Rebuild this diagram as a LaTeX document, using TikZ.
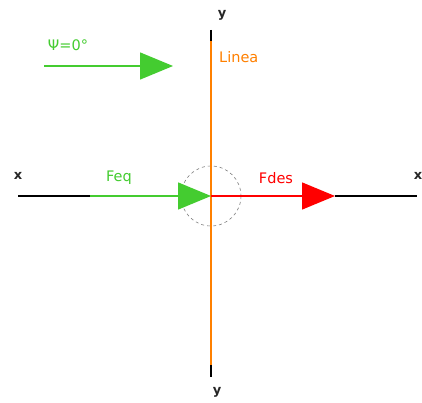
\documentclass[tikz,border=0pt]{standalone}
\usepackage{fontspec}
\setmainfont{DejaVu Sans}
\usetikzlibrary{arrows.meta}
\definecolor{fgreen}{RGB}{68,204,48}
\definecolor{forange}{RGB}{255,128,0}
\definecolor{fred}{RGB}{255,0,0}
\tikzset{
  axis/.style={line width=1.4pt,black},
  vec/.style={line width=1.4pt,-{Triangle[length=33pt,width=27pt]}},
  axlabel/.style={font=\fontsize{13}{15}\selectfont\bfseries,text=black!85,inner sep=0pt},
  lbl/.style={font=\fontsize{14.5}{17}\selectfont,inner sep=0pt},
}
\begin{document}
\begin{tikzpicture}[x=1pt,y=-1pt]
\useasboundingbox[fill=white] (0,0) rectangle (422,403);
% coordinates
\coordinate (O) at (211,196);
\coordinate (xl) at (18,196);
\coordinate (gs) at (90,196);
\coordinate (rt) at (335,196);
\coordinate (xr) at (417,196);
\coordinate (yt) at (211,30);
\coordinate (os) at (211,41);
\coordinate (oe) at (211,365);
\coordinate (yb) at (211,377);
\coordinate (ps) at (44,66);
\coordinate (pe) at (173,66);
% circle
\draw[gray,dashed,line width=0.6pt] (O) circle (30);
% axes
\draw[axis] (xl) -- (gs);
\draw[axis] (rt) -- (xr);
\draw[axis] (yt) -- (os);
\draw[axis] (oe) -- (yb);
\draw[line width=1.4pt,forange] (os) -- (oe);
% vectors
\draw[vec,fgreen] (gs) -- (O);
\draw[vec,fred] (O) -- (rt);
\draw[vec,fgreen] (ps) -- (pe);
% labels
\node[axlabel] (lxl) at (18,176) {x};
\node[axlabel] (lxr) at (418,176) {x};
\node[axlabel] (lyt) at (222,15) {y};
\node[axlabel] (lyb) at (217,392) {y};
\node[lbl,text=forange,anchor=west] (linea) at (219,57) {Linea};
\node[lbl,text=fgreen] (feq) at (119,178) {Feq};
\node[lbl,text=fred] (fdes) at (276,178) {Fdes};
\node[lbl,text=fgreen] (psi) at (68,45) {Ψ=0°};
\end{tikzpicture}
\end{document}
